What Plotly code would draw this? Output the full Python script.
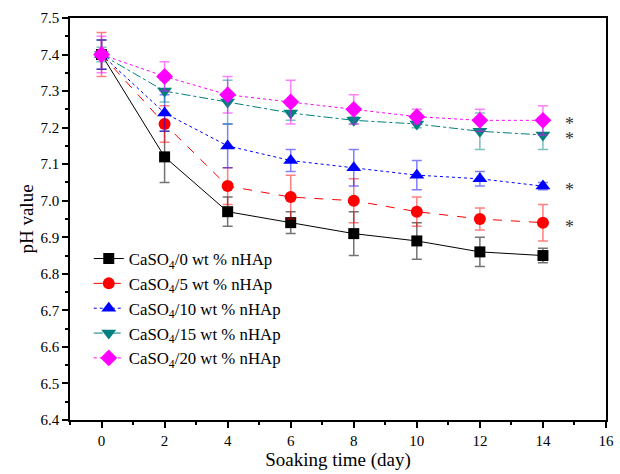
import plotly.graph_objects as go

days = [0, 2, 4, 6, 8, 10, 12, 14]
names = ["CaSO<sub>4</sub>/0 wt % nHAp", "CaSO<sub>4</sub>/5 wt % nHAp",
         "CaSO<sub>4</sub>/10 wt % nHAp", "CaSO<sub>4</sub>/15 wt % nHAp",
         "CaSO<sub>4</sub>/20 wt % nHAp"]
ph_0 = [7.40, 7.12, 6.97, 6.94, 6.91, 6.89, 6.86, 6.85]
ph_5 = [7.40, 7.21, 7.04, 7.01, 7.00, 6.97, 6.95, 6.94]
ph_10 = [7.40, 7.24, 7.15, 7.11, 7.09, 7.07, 7.06, 7.04]
ph_15 = [7.40, 7.30, 7.27, 7.24, 7.22, 7.21, 7.19, 7.18]
ph_20 = [7.40, 7.34, 7.29, 7.27, 7.25, 7.23, 7.22, 7.22]
err_0 = [0.04, 0.07, 0.04, 0.03, 0.06, 0.05, 0.04, 0.02]
err_5 = [0.06, 0.05, 0.05, 0.06, 0.06, 0.04, 0.03, 0.05]
err_10 = [0.04, 0.05, 0.06, 0.03, 0.05, 0.04, 0.02, 0.01]
err_15 = [0.02, 0.03, 0.06, 0.02, 0.01, 0.01, 0.05, 0.04]
err_20 = [0.05, 0.04, 0.05, 0.06, 0.04, 0.02, 0.03, 0.04]
star_series = [ph_5[-1], ph_10[-1], ph_15[-1], ph_20[-1]]

series = [ph_0, ph_5, ph_10, ph_15, ph_20]
errs = [err_0, err_5, err_10, err_15, err_20]
colors = ["#000000", "#FF0000", "#0000FF", "#008080", "#FF00FF"]
err_colors = ["rgba(0,0,0,0.55)", "rgba(255,0,0,0.5)", "rgba(0,0,255,0.5)",
              "rgba(0,128,128,0.5)", "rgba(255,0,255,0.5)"]
dashes = ["solid", "dash", "dot", "dashdot", "dot"]
symbols = ["square", "circle", "triangle-up", "triangle-down", "diamond"]
sizes = [11, 12, 13, 13, 13]

fig = go.Figure()
for ys, er, c, ec, d, s, sz, n in zip(series, errs, colors, err_colors, dashes, symbols, sizes, names):
    fig.add_trace(go.Scatter(
        x=days, y=ys, name=n, mode="lines+markers",
        line=dict(color=c, width=1, dash=d),
        marker=dict(symbol=s, size=sz, color=c),
        error_y=dict(type="data", array=er, color=ec, thickness=1.5, width=5),
    ))

for v in star_series:
    fig.add_annotation(x=14.85, y=v, text="*", showarrow=False,
                       font=dict(family="Liberation Serif", size=18, color="#333333"),
                       yanchor="middle", yshift=-4)

axis_font = dict(family="Liberation Serif", size=15, color="#000000")
fig.update_layout(
    width=620, height=474,
    margin=dict(l=70, r=6, t=18, b=54),
    paper_bgcolor="white", plot_bgcolor="white",
    font=dict(family="Liberation Serif", color="#000000"),
    showlegend=True,
    legend=dict(x=0.035, y=0.445, xanchor="left", yanchor="top",
                bgcolor="rgba(0,0,0,0)", font=dict(family="Liberation Serif", size=16.8),
                tracegroupgap=0),
    xaxis=dict(range=[-1, 16], tickmode="linear", tick0=0, dtick=2,
               ticks="outside", ticklen=6, tickwidth=1.5, tickcolor="#000",
               minor=dict(ticks="outside", ticklen=3, dtick=1, tick0=0, tickcolor="#000"),
               showline=True, linecolor="#000", linewidth=1.5, mirror=True,
               showgrid=False, zeroline=False, tickfont=axis_font,
               title=dict(text="Soaking time (day)", font=dict(family="Liberation Serif", size=19),
                          standoff=4)),
    yaxis=dict(range=[6.4, 7.5], tickmode="linear", tick0=6.4, dtick=0.1, tickformat=".1f",
               ticks="outside", ticklen=6, tickwidth=1.5, tickcolor="#000",
               minor=dict(ticks="outside", ticklen=3, dtick=0.05, tick0=6.4, tickcolor="#000"),
               showline=True, linecolor="#000", linewidth=1.5, mirror=True,
               showgrid=False, zeroline=False, tickfont=axis_font,
               title=dict(text="pH value", font=dict(family="Liberation Serif", size=19),
                          standoff=2)),
)

fig.write_html("out.html")
